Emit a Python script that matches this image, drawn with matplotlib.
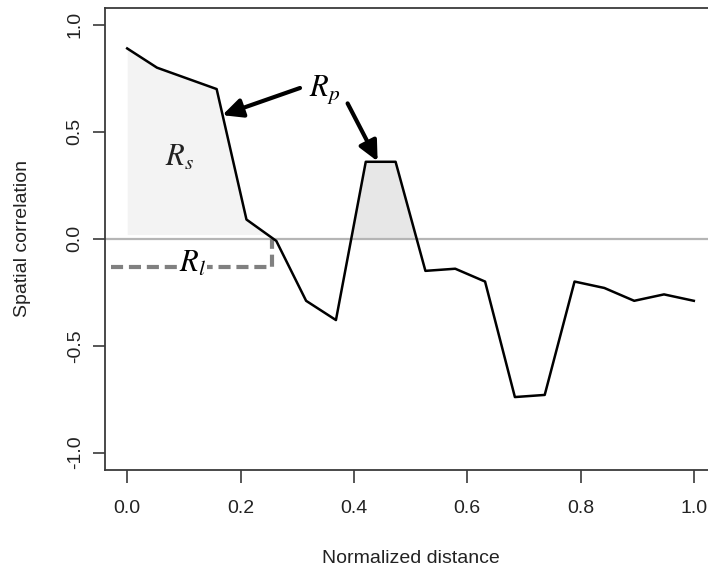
import numpy as np
import matplotlib
matplotlib.use("Agg")
import matplotlib.pyplot as plt

# spatial correlation profile (20 equally spaced lags)
distance = np.linspace(0, 1, 20)
correlation = [0.89, 0.80, 0.75, 0.70, 0.09, -0.01, -0.29, -0.38, 0.36, 0.36,
               -0.15, -0.14, -0.20, -0.74, -0.73, -0.20, -0.23, -0.29, -0.26, -0.29]

# annotation geometry (data units)
rl_level = -0.13
rl_start = -0.028
rl_end = 0.256
rs_pos = (0.092, 0.38)
rl_pos = (0.115, -0.115)
rp_pos = (0.349, 0.70)
arrow1 = ((0.305, 0.705), (0.168, 0.578))
arrow2 = ((0.389, 0.633), (0.442, 0.362))

plt.rcParams["font.family"] = ["Liberation Sans", "DejaVu Sans"]
plt.rcParams["mathtext.fontset"] = "stix"

fig = plt.figure(figsize=(7.08, 5.72), dpi=100)
ax = fig.add_axes([104.5 / 708, 0.1787, 612 / 708, 0.8077])

x = np.asarray(distance)
y = np.asarray(correlation)

# fine grid for the shaded areas
xf = np.linspace(0, 1, 2001)
yf = np.interp(xf, x, y)
m1 = xf <= 0.26
ax.fill_between(xf[m1], 0.02, yf[m1], where=yf[m1] > 0.02, interpolate=True,
                color="#f3f3f3", lw=0, zorder=1)
m2 = (xf > 0.38) & (xf < 0.52)
ax.fill_between(xf[m2], 0, yf[m2], where=yf[m2] > 0, interpolate=True,
                color="#e7e7e7", lw=0, zorder=1)

ax.axhline(0, color="#b5b5b5", lw=1.6, zorder=2)
ax.plot(x, y, color="black", lw=1.8, zorder=4)

# R_l dashed bracket
ax.plot([rl_start, rl_end, rl_end], [rl_level, rl_level, 0], color="#808080",
        lw=3, linestyle=(0, (2.9, 1.4)), solid_joinstyle="miter", zorder=3)

ax.text(*rs_pos, r"$R_s$", fontsize=22, ha="center", va="center", color="#222222", zorder=5)
ax.text(*rl_pos, r"$R_l$", fontsize=22, ha="center", va="center", color="black", zorder=5,
        bbox=dict(facecolor="white", edgecolor="none", pad=1))
ax.text(*rp_pos, r"$R_p$", fontsize=22, ha="center", va="center", color="black", zorder=5)

for tail, head in (arrow1, arrow2):
    ax.annotate("", xy=head, xytext=tail,
                arrowprops=dict(arrowstyle="-|>,head_length=0.75,head_width=0.36",
                                mutation_scale=16, color="black", lw=3,
                                shrinkA=0, shrinkB=0), zorder=6)

ax.set_xlim(-0.04, 1.04)
ax.set_ylim(-1.08, 1.08)
ax.set_xticks([0.0, 0.2, 0.4, 0.6, 0.8, 1.0])
ax.set_yticks([-1.0, -0.5, 0.0, 0.5, 1.0])
ax.set_xticklabels(["0.0", "0.2", "0.4", "0.6", "0.8", "1.0"])
ax.set_yticklabels(["-1.0", "-0.5", "0.0", "0.5", "1.0"], rotation=90, va="center")

for sp in ax.spines.values():
    sp.set_color("#3a3a3a")
    sp.set_linewidth(1.3)
ax.tick_params(axis="both", direction="out", length=9, width=1.2, color="#3a3a3a",
               labelsize=14, labelcolor="#222222")
ax.tick_params(axis="x", pad=12.5)
ax.tick_params(axis="y", pad=6)

ax.set_xlabel("Normalized distance", fontsize=14, color="#222222", va="center")
ax.xaxis.set_label_coords(0.5, -0.191)
ax.set_ylabel("Spatial correlation", fontsize=14, color="#222222", va="center")
ax.yaxis.set_label_coords(-0.134, 0.5)

fig.savefig("out.png", dpi=100)
